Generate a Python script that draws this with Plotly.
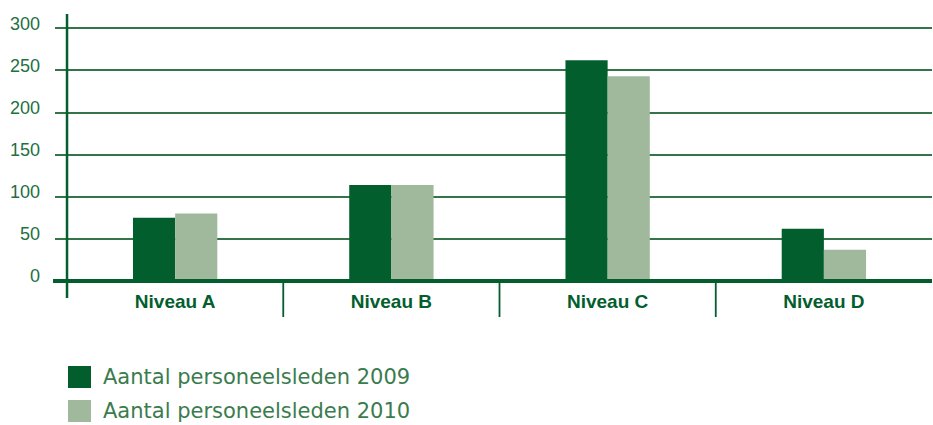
import plotly.graph_objects as go

categories = ["Niveau A", "Niveau B", "Niveau C", "Niveau D"]
series_names = ["Aantal personeelsleden 2009", "Aantal personeelsleden 2010"]
values_2009 = [75, 114, 262, 62]
values_2010 = [80, 114, 243, 37]
y_ticks = [0, 50, 100, 150, 200, 250, 300]

DARK = "#035E2E"
LIGHT = "#A0B99C"
GRID = "#347449"
TICK_TXT = "#23703F"
LEG_TXT = "#3A7C4D"

W, H = 933, 425
ML, MR, MT, MB = 55, 1, 27, 144
x_range = [-0.5556, len(categories) - 0.5]
y_range = [0, 301.5]

fig = go.Figure()
fig.add_trace(go.Bar(x=categories, y=values_2009, name=series_names[0],
                     marker=dict(color=DARK, line=dict(width=0)), showlegend=False))
fig.add_trace(go.Bar(x=categories, y=values_2010, name=series_names[1],
                     marker=dict(color=LIGHT, line=dict(width=0)), showlegend=False))

pw = W - ML - MR
ph = H - MT - MB

def xp(v):
    return (v - x_range[0]) / (x_range[1] - x_range[0])

def yp_pix(pix):
    return (H - MB - pix) / ph

shapes = []
# vertical y axis line
shapes.append(dict(type="line", xref="paper", yref="paper",
                   x0=xp(-0.5), x1=xp(-0.5), y0=yp_pix(298), y1=yp_pix(14),
                   line=dict(color=DARK, width=2.5), layer="above"))
# baseline
shapes.append(dict(type="line", xref="paper", yref="paper",
                   x0=xp(-0.5) - 14 / pw, x1=1, y0=0, y1=0,
                   line=dict(color=DARK, width=4), layer="above"))
# category separators
for i in range(1, len(categories)):
    shapes.append(dict(type="line", xref="paper", yref="paper",
                       x0=xp(i - 0.5), x1=xp(i - 0.5), y0=0, y1=yp_pix(317),
                       line=dict(color=DARK, width=1.8), layer="above"))

# manual legend
annotations = []
leg_colors = [DARK, LIGHT]
for k, (name, col) in enumerate(zip(series_names, leg_colors)):
    top = 366 + 34 * k
    shapes.append(dict(type="rect", xref="paper", yref="paper",
                       x0=(68 - ML) / pw, x1=(91 - ML) / pw,
                       y0=yp_pix(top + 22), y1=yp_pix(top),
                       fillcolor=col, line=dict(width=0)))
    annotations.append(dict(xref="paper", yref="paper", x=(101 - ML) / pw,
                            y=yp_pix(top + 11), xanchor="left", yanchor="middle",
                            text=name, showarrow=False,
                            font=dict(family="DejaVu Sans", size=21, color=LEG_TXT)))

fig.update_layout(
    width=W, height=H,
    margin=dict(l=ML, r=MR, t=MT, b=MB, pad=0),
    paper_bgcolor="white", plot_bgcolor="white",
    barmode="group", bargap=0.61, bargroupgap=0,
    shapes=shapes, annotations=annotations,
    xaxis=dict(range=x_range, showgrid=False, zeroline=False, showline=False,
               ticks="", ticklabelstandoff=7,
               tickfont=dict(family="Liberation Sans", size=19, color=DARK, weight="bold")),
    yaxis=dict(range=y_range, tickvals=y_ticks, showgrid=True, gridcolor=GRID,
               gridwidth=1.5, zeroline=False, showline=False, ticks="",
               ticklabelstandoff=14, ticklabelshift=-5,
               tickfont=dict(family="Liberation Sans", size=18, color=TICK_TXT)),
    showlegend=False,
)

fig.write_html("out.html", config={"displayModeBar": False},
               post_script="document.body.style.margin='0';document.body.style.padding='0';")
